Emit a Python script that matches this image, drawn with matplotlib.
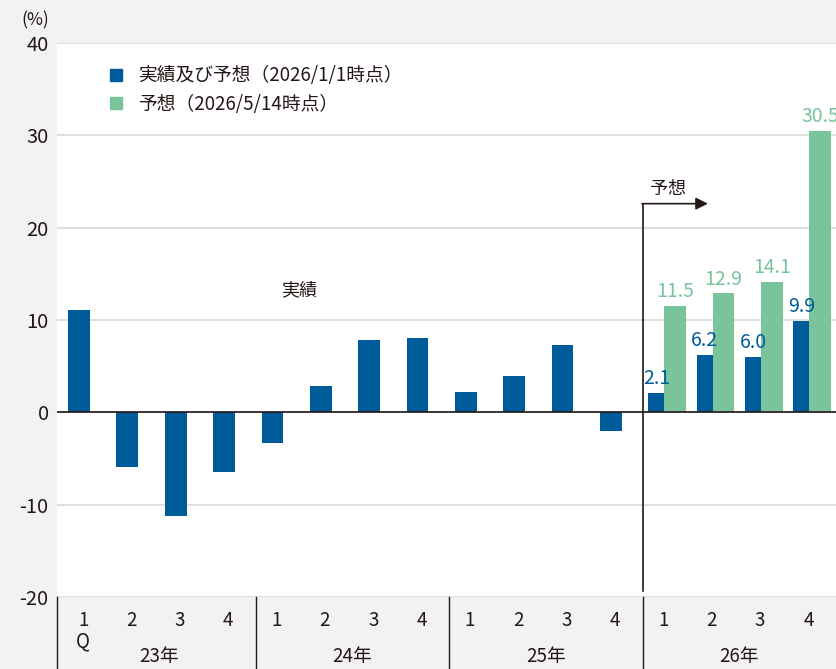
import matplotlib
matplotlib.use('Agg')
import matplotlib.pyplot as plt
import matplotlib.transforms as mtransforms
from matplotlib.lines import Line2D
import numpy as np

plt.rcParams['font.family'] = ['Noto Sans CJK JP', 'DejaVu Sans']
plt.rcParams['axes.unicode_minus'] = False

# data
quarters = ['1', '2', '3', '4']
years = ['23年', '24年', '25年', '26年']
actual = [11.1, -5.9, -11.2, -6.5, -3.3, 2.9, 7.8, 8.0, 2.2, 3.9, 7.3, -2.0]
forecast_jan = [2.1, 6.2, 6.0, 9.9]
forecast_may = [11.5, 12.9, 14.1, 30.5]
legend_labels = ['実績及び予想（2026/1/1時点）', '予想（2026/5/14時点）']

blue = '#005b9b'
green = '#79c49b'
dark = '#231815'
grid_c = '#d9d9d9'
bg = '#f2f2f2'

fig = plt.figure(figsize=(8.36, 6.69), dpi=100, facecolor=bg)
ax = fig.add_axes([57 / 836, 72 / 669, 779 / 836, 554 / 669])
ax.set_facecolor('white')

# actual bars (slot starts at integer x)
x_act = np.arange(len(actual))
ax.bar(x_act + 0.12, actual, width=0.45, align='edge', color=blue, zorder=3)

# 2026 forecasts
x_fc = np.arange(12, 16)
ax.bar(x_fc + 0.12, forecast_jan, width=0.33, align='edge', color=blue, zorder=3)
ax.bar(x_fc + 0.45, forecast_may, width=0.45, align='edge', color=green, zorder=3)

for x, v in zip(x_fc, forecast_jan):
    ax.text(x + 0.285, v + 0.4, f'{v:.1f}', ha='center', va='bottom',
            color=blue, fontsize=14, zorder=4)
for x, v in zip(x_fc, forecast_may):
    ax.text(x + 0.675, v + 0.4, f'{v:.1f}', ha='center', va='bottom',
            color=green, fontsize=14, zorder=4, clip_on=False)

ax.set_xlim(-0.11, 16)
ax.set_ylim(-20, 40)
ax.set_yticks(range(-20, 41, 10))
ax.yaxis.grid(True, color=grid_c, lw=1.2, zorder=0)
ax.axhline(0, color=dark, lw=1.2, zorder=4)
for s in ax.spines.values():
    s.set_visible(False)
ax.tick_params(axis='y', length=0, labelsize=14.5, labelcolor=dark, pad=6)
ax.set_xticks([])

fig.text(35 / 836, 1 - 20 / 669, '(%)', ha='center', va='center',
         fontsize=12.5, color=dark)

# forecast arrow
ax.plot([12, 12], [-19.3, 22.6], color=dark, lw=1.2, zorder=5)
ax.annotate('', xy=(13.35, 22.6), xytext=(11.99, 22.6),
            arrowprops=dict(arrowstyle='-|>', color=dark, lw=1.2,
                            mutation_scale=18, shrinkA=0, shrinkB=0), zorder=5)
ax.text(12.53, 23.2, '予想', ha='center', va='bottom', fontsize=13, color=dark)
ax.text(4.9, 13.2, '実績', ha='center', va='center', fontsize=13, color=dark)

# category axis below
trans = mtransforms.blended_transform_factory(ax.transData, ax.transAxes)
for i in range(16):
    ax.text(i + 0.43, -0.042, quarters[i % 4], transform=trans, ha='center',
            va='center', fontsize=13.5, color=dark, clip_on=False)
ax.text(0.43, -0.08, 'Q', transform=trans, ha='center', va='center',
        fontsize=13.5, color=dark, clip_on=False)
for g, y in enumerate(years):
    ax.text(g * 4 + 2, -0.108, y, transform=trans, ha='center', va='center',
            fontsize=13.5, color=dark, clip_on=False)
for b in [-0.11, 4, 8, 12]:
    ax.plot([b, b], [0, -0.14], transform=trans, color=dark, lw=1,
            clip_on=False)

# legend
handles = [Line2D([], [], ls='', marker='s', markersize=8.5, color=blue),
           Line2D([], [], ls='', marker='s', markersize=8.5, color=green)]
ax.legend(handles, legend_labels, loc='upper left', bbox_to_anchor=(0.03, 0.99),
          frameon=False, fontsize=13.5, handletextpad=0.2, labelspacing=0.4,
          labelcolor=dark)

fig.savefig('out.png', dpi=100, facecolor=bg)
